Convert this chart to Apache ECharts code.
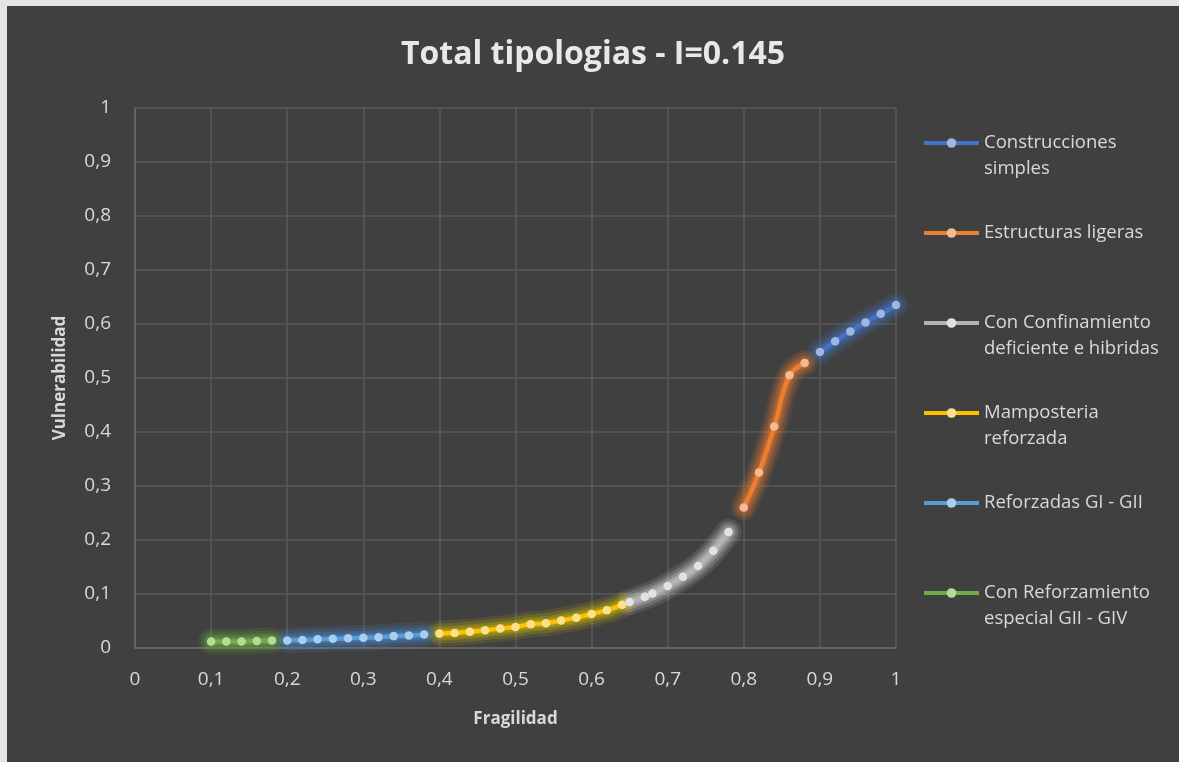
<!DOCTYPE html>
<html>
<head>
<meta charset="utf-8">
<script src="https://cdn.jsdelivr.net/npm/echarts@6/dist/echarts.min.js"></script>
<style>
  html, body { margin: 0; padding: 0; background: #e4e4e4; width: 1179px; height: 762px; overflow: hidden; }
  #chart { position: absolute; left: 7px; top: 6px; width: 1172px; height: 756px; }
</style>
</head>
<body>
<div id="chart"></div>
<script>
// ---- data ----
const simplesX = [0.90, 0.92, 0.94, 0.96, 0.98, 1.00];
const simplesY = [0.548, 0.568, 0.586, 0.603, 0.619, 0.635];

const ligerasX = [0.80, 0.82, 0.84, 0.86, 0.88];
const ligerasY = [0.260, 0.325, 0.410, 0.505, 0.528];

const confinX = [0.65, 0.67, 0.68, 0.70, 0.72, 0.74, 0.76, 0.78];
const confinY = [0.085, 0.095, 0.101, 0.115, 0.132, 0.152, 0.180, 0.215];

const mampX = [0.40, 0.42, 0.44, 0.46, 0.48, 0.50, 0.52, 0.54, 0.56, 0.58, 0.60, 0.62, 0.64];
const mampY = [0.027, 0.028, 0.030, 0.033, 0.036, 0.039, 0.044, 0.046, 0.051, 0.056, 0.063, 0.070, 0.080];

const reforzX = [0.20, 0.22, 0.24, 0.26, 0.28, 0.30, 0.32, 0.34, 0.36, 0.38];
const reforzY = [0.014, 0.015, 0.016, 0.017, 0.018, 0.019, 0.020, 0.022, 0.023, 0.025];

const especialX = [0.10, 0.12, 0.14, 0.16, 0.18];
const especialY = [0.012, 0.012, 0.012, 0.013, 0.014];

const seriesNames = [
  'Construcciones simples',
  'Estructuras ligeras',
  'Con Confinamiento deficiente e hibridas',
  'Mamposteria reforzada',
  'Reforzadas GI - GII',
  'Con Reforzamiento especial GII - GIV'
];
const legendLabels = [
  ['Construcciones', 'simples'],
  ['Estructuras ligeras'],
  ['Con Confinamiento', 'deficiente e hibridas'],
  ['Mamposteria', 'reforzada'],
  ['Reforzadas GI - GII'],
  ['Con Reforzamiento', 'especial GII - GIV']
];
const lineColors = ['#4472C4', '#ED7D31', '#B4B4B4', '#FFC000', '#5B9BD5', '#70AD47'];
const markColors = ['#9fb6e3', '#f6b995', '#e2e2e2', '#ffe08a', '#a9cdee', '#b3dc98'];
const glowRGB = ['68,114,196', '237,125,49', '225,225,225', '215,200,0', '70,140,215', '112,185,60'];
const xs = [simplesX, ligerasX, confinX, mampX, reforzX, especialX];
const ys = [simplesY, ligerasY, confinY, mampY, reforzY, especialY];

const fmt = v => String(Number(v.toFixed(1))).replace('.', ',');
const FONT = '"Open Sans", "Noto Sans", sans-serif';
const TXT = '#d9d9d9';

const glowLayers = [{ w: 26, a: 0.12 }, { w: 20, a: 0.18 }, { w: 14, a: 0.26 }, { w: 9, a: 0.3 }];
const glowSeries = [];
seriesNames.forEach((name, i) => {
  glowLayers.forEach((g, j) => {
    glowSeries.push({
      name: name + ' glow' + j,
      type: 'line',
      smooth: 0.4,
      silent: true,
      data: xs[i].map((x, k) => [x, ys[i][k]]),
      symbol: 'none',
      lineStyle: { color: 'rgba(' + glowRGB[i] + ',' + g.a + ')', width: g.w, cap: 'round', join: 'round' },
      z: 2
    });
  });
});

const series = seriesNames.map((name, i) => ({
  name,
  type: 'line',
  smooth: 0.4,
  data: xs[i].map((x, k) => [x, ys[i][k]]),
  symbol: 'circle',
  symbolSize: 8.5,
  lineStyle: { color: lineColors[i], width: 4.5 },
  itemStyle: { color: markColors[i], borderWidth: 0 },
  z: 3
}));

const legendCenters = [143, 233, 323, 413, 503, 593];
const LH = 26;
const legends = seriesNames.map((name, i) => {
  const two = legendLabels[i].length > 1;
  const text = two ? '\n' + legendLabels[i].join('\n') : legendLabels[i][0];
  const nLines = two ? 3 : 1;
  return {
    data: [name],
    left: 915,
    top: legendCenters[i] - 6 - (nLines * LH) / 2,
    padding: 0,
    itemWidth: 55,
    itemHeight: 12,
    itemGap: 4,
    selectedMode: false,
    formatter: () => text,
    textStyle: { color: TXT, fontFamily: FONT, fontSize: 18.5, lineHeight: LH },
    lineStyle: { width: 4 }
  };
});

const chart = echarts.init(document.getElementById('chart'));
chart.setOption({
  backgroundColor: '#404040',
  animation: false,
  title: {
    text: 'Total tipologias - I=0.145',
    left: 'center',
    top: 28,
    textStyle: { color: '#e8e8e8', fontFamily: FONT, fontSize: 32, fontWeight: 'bold' }
  },
  legend: legends,
  grid: { left: 128, right: 283, top: 102, bottom: 114 },
  xAxis: {
    type: 'value', min: 0, max: 1, interval: 0.1,
    name: 'Fragilidad', nameLocation: 'middle', nameGap: 63,
    nameTextStyle: { color: TXT, fontFamily: FONT, fontSize: 17, fontWeight: 'bold' },
    axisLine: { show: true, lineStyle: { color: '#6a6a6a', width: 1.5 } },
    axisTick: { show: false },
    axisLabel: { color: TXT, fontFamily: FONT, fontSize: 19, margin: 22, formatter: fmt },
    splitLine: { show: true, lineStyle: { color: '#585858', width: 1.5 } }
  },
  yAxis: {
    type: 'value', min: 0, max: 1, interval: 0.1,
    name: 'Vulnerabilidad', nameLocation: 'middle', nameGap: 66, nameRotate: 90,
    nameTextStyle: { color: TXT, fontFamily: FONT, fontSize: 17, fontWeight: 'bold' },
    axisLine: { show: true, lineStyle: { color: '#6a6a6a', width: 1.5 } },
    axisTick: { show: false },
    axisLabel: { color: TXT, fontFamily: FONT, fontSize: 19, margin: 24, formatter: fmt },
    splitLine: { show: true, lineStyle: { color: '#585858', width: 1.5 } }
  },
  series: glowSeries.concat(series)
});
</script>
</body>
</html>
